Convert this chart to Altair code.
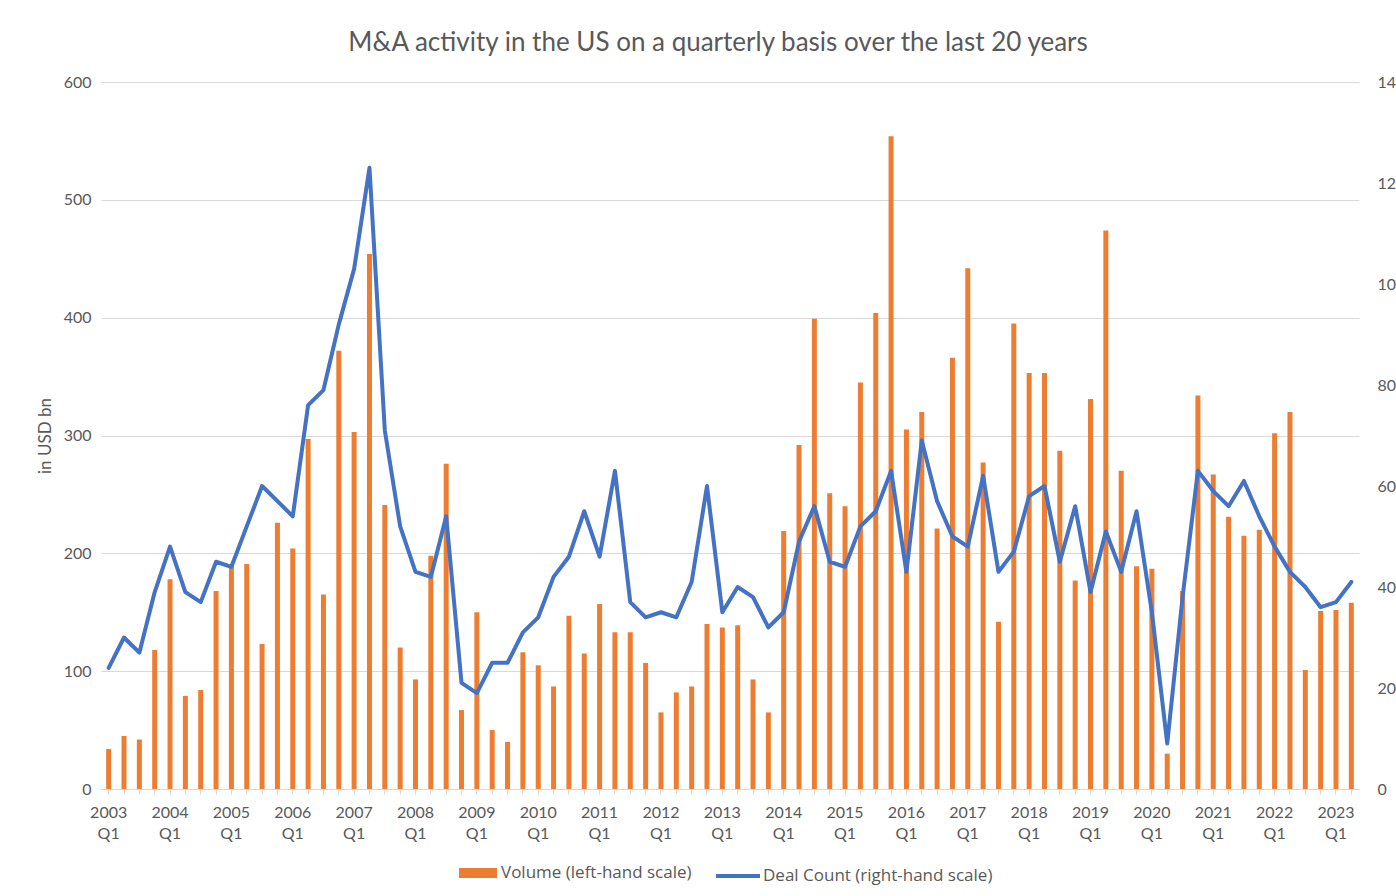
import altair as alt
import pandas as pd

# ---- data ----
years = list(range(2003, 2024))
quarter_names = ["Q1", "Q2", "Q3", "Q4"]
quarters = [f"{y} {q}" for y in years for q in quarter_names][:82]  # 2003 Q1 .. 2023 Q2

volume = [
    34, 45, 42, 118,      # 2003
    178, 79, 84, 168,     # 2004
    189, 191, 123, 226,   # 2005
    204, 297, 165, 372,   # 2006
    303, 454, 241, 120,   # 2007
    93, 198, 276, 67,     # 2008
    150, 50, 40, 116,     # 2009
    105, 87, 147, 115,    # 2010
    157, 133, 133, 107,   # 2011
    65, 82, 87, 140,      # 2012
    137, 139, 93, 65,     # 2013
    219, 292, 399, 251,   # 2014
    240, 345, 404, 554,   # 2015
    305, 320, 221, 366,   # 2016
    442, 277, 142, 395,   # 2017
    353, 353, 287, 177,   # 2018
    331, 474, 270, 189,   # 2019
    187, 30, 168, 334,    # 2020
    267, 231, 215, 220,   # 2021
    302, 320, 101, 151,   # 2022
    152, 158,             # 2023
]

deals = [
    24, 30, 27, 39,
    48, 39, 37, 45,
    44, 52, 60, 57,
    54, 76, 79, 92,
    103, 123, 71, 52,
    43, 42, 54, 21,
    19, 25, 25, 31,
    34, 42, 46, 55,
    46, 63, 37, 34,
    35, 34, 41, 60,
    35, 40, 38, 32,
    35, 49, 56, 45,
    44, 52, 55, 63,
    43, 69, 57, 50,
    48, 62, 43, 47,
    58, 60, 45, 56,
    39, 51, 43, 55,
    35, 9, 38, 63,
    59, 56, 61, 54,
    48, 43, 40, 36,
    37, 41,
]

left_ticks = [0, 100, 200, 300, 400, 500, 600]
right_ticks = [0, 20, 40, 60, 80, 100, 120, 140]

title_text = "M&A activity in the US on a quarterly basis over the last 20 years"
vol_name = "Volume (left-hand scale)"
deal_name = "Deal Count (right-hand scale)"

df = pd.DataFrame({"quarter": quarters, "volume": volume, "deals": deals})
df["vol_series"] = vol_name
df["deal_series"] = deal_name

TEXT = "#595959"
GRID = "#d9d9d9"
FONT = "Lato"
LEG_FONT = "Open Sans"
ORANGE = "#ED7D31"
BLUE = "#4472C4"

x_enc = alt.X(
    "quarter:N",
    sort=None,
    scale=alt.Scale(paddingInner=0, paddingOuter=0),
    axis=alt.Axis(
        title=None,
        labelExpr="indexof(datum.value, 'Q1') > 0 ? split(datum.value, ' ') : ''",
        labelAngle=0,
        labelOverlap=False,
        labelLineHeight=21,
        labelPadding=10,
        tickSize=5,
        tickColor=GRID,
        domainColor=GRID,
        grid=False,
        labelFontSize=16,
        labelColor=TEXT,
        labelFont=FONT,
    ),
)

bars = alt.Chart(df).mark_bar(size=5).encode(
    x=x_enc,
    y=alt.Y(
        "volume:Q",
        scale=alt.Scale(domain=[0, 600]),
        axis=alt.Axis(
            title="in USD bn",
            values=left_ticks,
            domain=False,
            ticks=False,
            grid=True,
            gridColor=GRID,
            labelPadding=10,
            labelFontSize=16,
            labelColor=TEXT,
            labelFont=FONT,
            titleFontSize=17,
            titleFont=FONT,
            titleColor=TEXT,
            titleFontWeight="normal",
            titlePadding=9,
        ),
    ),
    fill=alt.Fill(
        "vol_series:N",
        scale=alt.Scale(domain=[vol_name], range=[ORANGE]),
        legend=alt.Legend(
            title=None,
            orient="none",
            legendX=358,
            legendY=772,
            symbolType="M-1,-0.26H1V0.26H-1Z",
            symbolSize=1444,
            symbolStrokeWidth=0,
            labelFontSize=17,
            labelFont=LEG_FONT,
            labelColor=TEXT,
            labelOffset=4,
            labelLimit=400,
        ),
    ),
)

line = alt.Chart(df).mark_line(strokeWidth=4, strokeJoin="round", strokeCap="round").encode(
    x=x_enc,
    y=alt.Y(
        "deals:Q",
        scale=alt.Scale(domain=[0, 140]),
        axis=alt.Axis(
            orient="right",
            title=None,
            values=right_ticks,
            domain=False,
            ticks=False,
            grid=False,
            labelPadding=18,
            labelFontSize=16,
            labelColor=TEXT,
            labelFont=FONT,
        ),
    ),
    stroke=alt.Stroke(
        "deal_series:N",
        scale=alt.Scale(domain=[deal_name], range=[BLUE]),
        legend=alt.Legend(
            title=None,
            orient="none",
            legendX=613,
            legendY=770,
            symbolType="stroke",
            symbolSize=1936,
            symbolStrokeWidth=4,
            labelFontSize=17,
            labelFont=LEG_FONT,
            labelColor=TEXT,
            labelOffset=1,
            labelLimit=400,
        ),
    ),
)

chart = (
    alt.layer(bars, line)
    .resolve_scale(y="independent", fill="independent", stroke="independent")
    .properties(
        width=1258,
        height=707,
        padding={"left": 101, "top": 82, "right": 37, "bottom": 107},
        autosize=alt.AutoSizeParams(type="none"),
        title=alt.Title(
            title_text,
            fontSize=26,
            font=FONT,
            color=TEXT,
            fontWeight="normal",
            anchor="middle",
            frame="group",
            dx=-12,
            offset=18,
        ),
        background="white",
    )
    .configure_view(stroke=None)
)

chart.save("out.html", embed_options={"renderer": "svg", "actions": False})
